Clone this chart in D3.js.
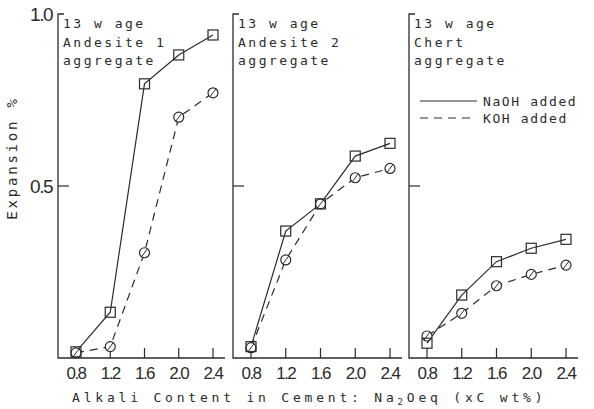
<!DOCTYPE html>
<html>
<head>
<meta charset="utf-8">
<script src="https://cdn.jsdelivr.net/npm/d3@7"></script>
<style>
  body { margin: 0; background: #fff; }
  svg { display: block; }
</style>
</head>
<body>
<div id="chart"></div>
<script>
// Alkali content (Na2Oeq, xC wt%)
const alkali = [0.8, 1.2, 1.6, 2.0, 2.4];
const tickLabels = ['0.8', '1.2', '1.6', '2.0', '2.4'];

// Expansion % at 13 weeks
const andesite1NaOH = [0.018, 0.133, 0.797, 0.881, 0.939];
const andesite1KOH = [0.015, 0.033, 0.306, 0.700, 0.771];
const andesite2NaOH = [0.033, 0.369, 0.448, 0.587, 0.624];
const andesite2KOH = [0.030, 0.285, 0.448, 0.524, 0.551];
const chertNaOH = [0.043, 0.183, 0.280, 0.319, 0.345];
const chertKOH = [0.064, 0.130, 0.210, 0.243, 0.270];

const panelTitles = [
  ['13 w age', 'Andesite 1', 'aggregate'],
  ['13 w age', 'Andesite 2', 'aggregate'],
  ['13 w age', 'Chert', 'aggregate']
];

const panels = [
  { title: panelTitles[0], naoh: andesite1NaOH, koh: andesite1KOH },
  { title: panelTitles[1], naoh: andesite2NaOH, koh: andesite2KOH },
  { title: panelTitles[2], naoh: chertNaOH, koh: chertKOH }
];

const width = 594;
const height = 409;
const ink = '#2b2b2b';
const mono = "'DejaVu Sans Mono', monospace";
const sans = "'Liberation Sans', Arial, sans-serif";

const svg = d3.select('#chart')
  .append('svg')
  .attr('width', width)
  .attr('height', height);

const y = d3.scaleLinear().domain([0, 1]).range([358, 14]);

// x position of the 0.8 and 2.4 ticks in each panel
const panelRanges = [[76, 213], [251, 390], [427, 566]];

panels.forEach((p, i) => {
  const x = d3.scaleLinear().domain([0.8, 2.4]).range(panelRanges[i]);
  const x0 = x(0.8) - 18;
  const x1 = x(2.4) + 12;
  const g = svg.append('g');

  // Left axis with bracket at top
  g.append('path')
    .attr('d', `M${x0 + 6},${y(1)} H${x0} V${y(0)} H${x1}`)
    .attr('fill', 'none')
    .attr('stroke', ink)
    .attr('stroke-width', 1.3);

  g.append('line')
    .attr('x1', x0).attr('x2', x0 + 11)
    .attr('y1', y(0.5)).attr('y2', y(0.5))
    .attr('stroke', ink)
    .attr('stroke-width', 1.2);

  // X ticks pointing inward
  g.selectAll('line.xt')
    .data(alkali)
    .join('line')
    .attr('class', 'xt')
    .attr('x1', d => x(d)).attr('x2', d => x(d))
    .attr('y1', y(0)).attr('y2', y(0) - 10)
    .attr('stroke', ink)
    .attr('stroke-width', 1.2);

  g.selectAll('text.xl')
    .data(tickLabels)
    .join('text')
    .attr('class', 'xl')
    .attr('x', (d, j) => x(alkali[j]))
    .attr('y', 379)
    .attr('text-anchor', 'middle')
    .attr('font-family', sans)
    .attr('font-size', 17)
    .attr('letter-spacing', -1.5)
    .attr('fill', ink)
    .text(d => d);

  // Panel title
  p.title.forEach((t, j) => {
    g.append('text')
      .attr('x', x0 + 5)
      .attr('y', 28 + j * 18.5)
      .attr('font-family', mono)
      .attr('font-size', 13)
      .attr('letter-spacing', 2.5)
      .attr('fill', ink)
      .text(t);
  });

  const line = d3.line()
    .x((d, j) => x(alkali[j]))
    .y(d => y(d));

  g.append('path')
    .datum(p.koh)
    .attr('d', line)
    .attr('fill', 'none')
    .attr('stroke', ink)
    .attr('stroke-width', 1.2)
    .attr('stroke-dasharray', '8,6');

  g.append('path')
    .datum(p.naoh)
    .attr('d', line)
    .attr('fill', 'none')
    .attr('stroke', ink)
    .attr('stroke-width', 1.2);

  // KOH markers: circle with a slash
  const circ = g.selectAll('g.koh')
    .data(p.koh)
    .join('g')
    .attr('class', 'koh')
    .attr('transform', (d, j) => `translate(${x(alkali[j])},${y(d)})`);
  circ.append('circle')
    .attr('r', 5)
    .attr('fill', '#fff')
    .attr('stroke', ink)
    .attr('stroke-width', 1.2);
  circ.append('line')
    .attr('x1', -3).attr('y1', 4)
    .attr('x2', 3).attr('y2', -4)
    .attr('stroke', ink)
    .attr('stroke-width', 1);

  // NaOH markers: open squares
  g.selectAll('rect.naoh')
    .data(p.naoh)
    .join('rect')
    .attr('class', 'naoh')
    .attr('x', (d, j) => x(alkali[j]) - 5)
    .attr('y', d => y(d) - 5)
    .attr('width', 10)
    .attr('height', 10)
    .attr('fill', 'none')
    .attr('stroke', ink)
    .attr('stroke-width', 1.2);
});

// Y tick labels (left panel only)
svg.selectAll('text.yl')
  .data([[1, '1.0'], [0.5, '0.5']])
  .join('text')
  .attr('class', 'yl')
  .attr('x', 52)
  .attr('y', d => y(d[0]) + 7)
  .attr('text-anchor', 'end')
  .attr('font-family', sans)
  .attr('font-size', 19)
  .attr('letter-spacing', -1.5)
  .attr('fill', ink)
  .text(d => d[1]);

// Y axis title
svg.append('text')
  .attr('transform', 'translate(17,158) rotate(-90)')
  .attr('text-anchor', 'middle')
  .attr('font-family', mono)
  .attr('font-size', 14)
  .attr('letter-spacing', 2.8)
  .attr('fill', ink)
  .text('Expansion %');

// X axis title
const xt = svg.append('text')
  .attr('x', 72)
  .attr('y', 402)
  .attr('font-family', mono)
  .attr('font-size', 13)
  .attr('letter-spacing', 3.8)
  .attr('fill', ink);
xt.append('tspan').text('Alkali Content in Cement: Na');
xt.append('tspan').attr('font-size', 9).attr('dy', 3).text('2');
xt.append('tspan').attr('dy', -3).text('Oeq (xC wt%)');

// Legend in the third panel
const legend = [
  { label: 'NaOH added', dash: null, y: 101 },
  { label: 'KOH added', dash: '8,6', y: 118 }
];
legend.forEach(l => {
  svg.append('line')
    .attr('x1', 420).attr('x2', l.dash ? 472 : 477)
    .attr('y1', l.y).attr('y2', l.y)
    .attr('stroke', ink)
    .attr('stroke-width', 1.2)
    .attr('stroke-dasharray', l.dash);
  svg.append('text')
    .attr('x', 483)
    .attr('y', l.y + 5)
    .attr('font-family', mono)
    .attr('font-size', 13)
    .attr('letter-spacing', 1.6)
    .attr('fill', ink)
    .text(l.label);
});
</script>
</body>
</html>
